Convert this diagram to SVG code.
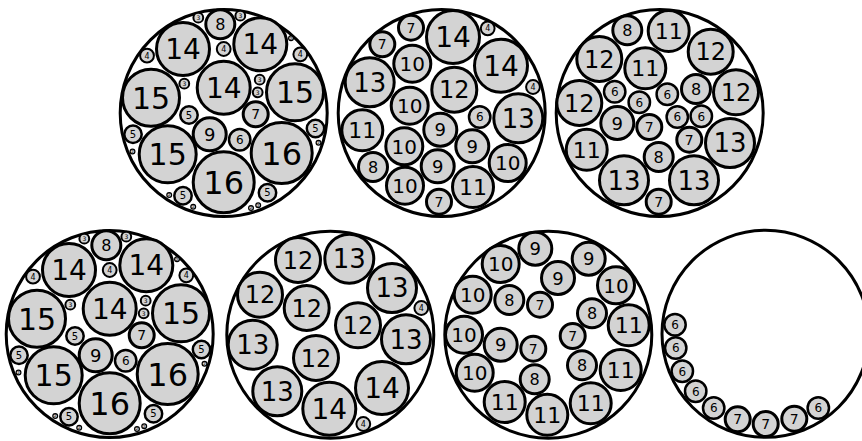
<svg xmlns="http://www.w3.org/2000/svg" width="862" height="441" viewBox="0 0 862 441">
<style>
.o{fill:#fff;stroke:#000;stroke-width:3}
.n circle{fill:#d3d3d3;stroke:#000}
.n text{font-family:"DejaVu Sans","Liberation Sans",sans-serif;text-anchor:middle;fill:#000}
.w3{stroke-width:3}
.w25{stroke-width:2.5}
.w2{stroke-width:2}
.w1{stroke-width:1.2}
</style>
<rect width="862" height="441" fill="#fff"/>
<g id="pack1">
<circle class="o" cx="223.7" cy="113" r="103.5"/>
<g id="a1" class="n"><circle class="w3" cx="183" cy="49" r="26.5"/><text x="183" y="59.1" font-size="28">14</text></g>
<g id="a2" class="n"><circle class="w3" cx="220.3" cy="24.3" r="14.5"/><text x="220.3" y="30.1" font-size="16">8</text></g>
<g id="a3" class="n"><circle class="w3" cx="260.3" cy="44.3" r="26.5"/><text x="260.3" y="54.4" font-size="28">14</text></g>
<g id="a4" class="n"><circle class="w3" cx="223.7" cy="87.7" r="26.5"/><text x="223.7" y="97.8" font-size="28">14</text></g>
<g id="a5" class="n"><circle class="w3" cx="151" cy="97.7" r="28.5"/><text x="151" y="108.5" font-size="30">15</text></g>
<g id="a6" class="n"><circle class="w3" cx="295" cy="92.3" r="28.5"/><text x="295" y="103.1" font-size="30">15</text></g>
<g id="a7" class="n"><circle class="w3" cx="167.7" cy="154.3" r="28.5"/><text x="167.7" y="165.1" font-size="30">15</text></g>
<g id="a8" class="n"><circle class="w3" cx="281.7" cy="153" r="30.5"/><text x="281.7" y="164.5" font-size="32">16</text></g>
<g id="a9" class="n"><circle class="w3" cx="223.7" cy="182.3" r="30.5"/><text x="223.7" y="193.8" font-size="32">16</text></g>
<g id="a10" class="n"><circle class="w3" cx="209.7" cy="134.3" r="16.5"/><text x="209.7" y="140.8" font-size="18">9</text></g>
<g id="a11" class="n"><circle class="w25" cx="239.7" cy="139.7" r="10.7"/><text x="239.7" y="144" font-size="12">6</text></g>
<g id="a12" class="n"><circle class="w3" cx="255.7" cy="114.3" r="12.5"/><text x="255.7" y="119.3" font-size="14">7</text></g>
<g id="a13" class="n"><circle class="w25" cx="189" cy="115" r="8.7"/><text x="189" y="118.6" font-size="10">5</text></g>
<g id="a14" class="n"><circle class="w2" cx="184.3" cy="83.7" r="4.9"/><text x="184.3" y="85.9" font-size="6">3</text></g>
<g id="a15" class="n"><circle class="w2" cx="223.7" cy="49" r="6.9"/><text x="223.7" y="51.9" font-size="8">4</text></g>
<g id="a16" class="n"><circle class="w2" cx="259.7" cy="79.7" r="4.9"/><text x="259.7" y="81.9" font-size="6">3</text></g>
<g id="a17" class="n"><circle class="w2" cx="257.7" cy="92.3" r="4.9"/><text x="257.7" y="94.5" font-size="6">3</text></g>
<g id="a18" class="n"><circle class="w2" cx="147" cy="55.7" r="6.9"/><text x="147" y="58.6" font-size="8">4</text></g>
<g id="a19" class="n"><circle class="w2" cx="300.3" cy="54.3" r="6.9"/><text x="300.3" y="57.2" font-size="8">4</text></g>
<g id="a20" class="n"><circle class="w2" cx="198.3" cy="17.7" r="4.9"/><text x="198.3" y="19.9" font-size="6">3</text></g>
<g id="a21" class="n"><circle class="w2" cx="240.3" cy="15.7" r="4.9"/><text x="240.3" y="17.9" font-size="6">3</text></g>
<g id="a22" class="n"><circle class="w1" cx="291" cy="38.3" r="2.4"/><text x="291" y="39.7" font-size="4">2</text></g>
<g id="a23" class="n"><circle class="w25" cx="133" cy="134.3" r="8.7"/><text x="133" y="137.9" font-size="10">5</text></g>
<g id="a24" class="n"><circle class="w1" cx="132.5" cy="151.5" r="2.4"/><text x="132.5" y="152.9" font-size="4">2</text></g>
<g id="a25" class="n"><circle class="w25" cx="315.5" cy="128.5" r="8.7"/><text x="315.5" y="132.1" font-size="10">5</text></g>
<g id="a26" class="n"><circle class="w1" cx="318.5" cy="142.7" r="2.4"/><text x="318.5" y="144.1" font-size="4">2</text></g>
<g id="a27" class="n"><circle class="w25" cx="183" cy="195.7" r="8.7"/><text x="183" y="199.3" font-size="10">5</text></g>
<g id="a28" class="n"><circle class="w1" cx="169.2" cy="195" r="2.4"/><text x="169.2" y="196.4" font-size="4">2</text></g>
<g id="a29" class="n"><circle class="w1" cx="193.2" cy="206.7" r="2.4"/><text x="193.2" y="208.1" font-size="4">2</text></g>
<g id="a30" class="n"><circle class="w25" cx="267.5" cy="192.7" r="8.7"/><text x="267.5" y="196.3" font-size="10">5</text></g>
<g id="a31" class="n"><circle class="w1" cx="258.2" cy="205.3" r="2.4"/><text x="258.2" y="206.7" font-size="4">2</text></g>
<g id="a32" class="n"><circle class="w1" cx="251" cy="208" r="2.4"/><text x="251" y="209.4" font-size="4">2</text></g>
</g>
<g id="pack4" transform="translate(-114,221)">
<circle class="o" cx="223.7" cy="113" r="103.5"/>
<g id="d1" class="n"><circle class="w3" cx="183" cy="49" r="26.5"/><text x="183" y="59.1" font-size="28">14</text></g>
<g id="d2" class="n"><circle class="w3" cx="220.3" cy="24.3" r="14.5"/><text x="220.3" y="30.1" font-size="16">8</text></g>
<g id="d3" class="n"><circle class="w3" cx="260.3" cy="44.3" r="26.5"/><text x="260.3" y="54.4" font-size="28">14</text></g>
<g id="d4" class="n"><circle class="w3" cx="223.7" cy="87.7" r="26.5"/><text x="223.7" y="97.8" font-size="28">14</text></g>
<g id="d5" class="n"><circle class="w3" cx="151" cy="97.7" r="28.5"/><text x="151" y="108.5" font-size="30">15</text></g>
<g id="d6" class="n"><circle class="w3" cx="295" cy="92.3" r="28.5"/><text x="295" y="103.1" font-size="30">15</text></g>
<g id="d7" class="n"><circle class="w3" cx="167.7" cy="154.3" r="28.5"/><text x="167.7" y="165.1" font-size="30">15</text></g>
<g id="d8" class="n"><circle class="w3" cx="281.7" cy="153" r="30.5"/><text x="281.7" y="164.5" font-size="32">16</text></g>
<g id="d9" class="n"><circle class="w3" cx="223.7" cy="182.3" r="30.5"/><text x="223.7" y="193.8" font-size="32">16</text></g>
<g id="d10" class="n"><circle class="w3" cx="209.7" cy="134.3" r="16.5"/><text x="209.7" y="140.8" font-size="18">9</text></g>
<g id="d11" class="n"><circle class="w25" cx="239.7" cy="139.7" r="10.7"/><text x="239.7" y="144" font-size="12">6</text></g>
<g id="d12" class="n"><circle class="w3" cx="255.7" cy="114.3" r="12.5"/><text x="255.7" y="119.3" font-size="14">7</text></g>
<g id="d13" class="n"><circle class="w25" cx="189" cy="115" r="8.7"/><text x="189" y="118.6" font-size="10">5</text></g>
<g id="d14" class="n"><circle class="w2" cx="184.3" cy="83.7" r="4.9"/><text x="184.3" y="85.9" font-size="6">3</text></g>
<g id="d15" class="n"><circle class="w2" cx="223.7" cy="49" r="6.9"/><text x="223.7" y="51.9" font-size="8">4</text></g>
<g id="d16" class="n"><circle class="w2" cx="259.7" cy="79.7" r="4.9"/><text x="259.7" y="81.9" font-size="6">3</text></g>
<g id="d17" class="n"><circle class="w2" cx="257.7" cy="92.3" r="4.9"/><text x="257.7" y="94.5" font-size="6">3</text></g>
<g id="d18" class="n"><circle class="w2" cx="147" cy="55.7" r="6.9"/><text x="147" y="58.6" font-size="8">4</text></g>
<g id="d19" class="n"><circle class="w2" cx="300.3" cy="54.3" r="6.9"/><text x="300.3" y="57.2" font-size="8">4</text></g>
<g id="d20" class="n"><circle class="w2" cx="198.3" cy="17.7" r="4.9"/><text x="198.3" y="19.9" font-size="6">3</text></g>
<g id="d21" class="n"><circle class="w2" cx="240.3" cy="15.7" r="4.9"/><text x="240.3" y="17.9" font-size="6">3</text></g>
<g id="d22" class="n"><circle class="w1" cx="291" cy="38.3" r="2.4"/><text x="291" y="39.7" font-size="4">2</text></g>
<g id="d23" class="n"><circle class="w25" cx="133" cy="134.3" r="8.7"/><text x="133" y="137.9" font-size="10">5</text></g>
<g id="d24" class="n"><circle class="w1" cx="132.5" cy="151.5" r="2.4"/><text x="132.5" y="152.9" font-size="4">2</text></g>
<g id="d25" class="n"><circle class="w25" cx="315.5" cy="128.5" r="8.7"/><text x="315.5" y="132.1" font-size="10">5</text></g>
<g id="d26" class="n"><circle class="w1" cx="318.5" cy="142.7" r="2.4"/><text x="318.5" y="144.1" font-size="4">2</text></g>
<g id="d27" class="n"><circle class="w25" cx="183" cy="195.7" r="8.7"/><text x="183" y="199.3" font-size="10">5</text></g>
<g id="d28" class="n"><circle class="w1" cx="169.2" cy="195" r="2.4"/><text x="169.2" y="196.4" font-size="4">2</text></g>
<g id="d29" class="n"><circle class="w1" cx="193.2" cy="206.7" r="2.4"/><text x="193.2" y="208.1" font-size="4">2</text></g>
<g id="d30" class="n"><circle class="w25" cx="267.5" cy="192.7" r="8.7"/><text x="267.5" y="196.3" font-size="10">5</text></g>
<g id="d31" class="n"><circle class="w1" cx="258.2" cy="205.3" r="2.4"/><text x="258.2" y="206.7" font-size="4">2</text></g>
<g id="d32" class="n"><circle class="w1" cx="251" cy="208" r="2.4"/><text x="251" y="209.4" font-size="4">2</text></g>
</g>
<g id="pack2">
<circle class="o" cx="441.7" cy="113" r="103.5"/>
<g id="b1" class="n"><circle class="w3" cx="411" cy="27.7" r="12.5"/><text x="411" y="32.7" font-size="14">7</text></g>
<g id="b2" class="n"><circle class="w3" cx="453" cy="37" r="26.5"/><text x="453" y="47.1" font-size="28">14</text></g>
<g id="b3" class="n"><circle class="w2" cx="487.7" cy="28.3" r="6.9"/><text x="487.7" y="31.2" font-size="8">4</text></g>
<g id="b4" class="n"><circle class="w3" cx="382.3" cy="44.3" r="12.5"/><text x="382.3" y="49.3" font-size="14">7</text></g>
<g id="b5" class="n"><circle class="w3" cx="412.3" cy="63.7" r="18.5"/><text x="412.3" y="70.9" font-size="20">10</text></g>
<g id="b6" class="n"><circle class="w3" cx="501" cy="65.7" r="26.5"/><text x="501" y="75.8" font-size="28">14</text></g>
<g id="b7" class="n"><circle class="w3" cx="369.7" cy="82.3" r="24.5"/><text x="369.7" y="91.7" font-size="26">13</text></g>
<g id="b8" class="n"><circle class="w3" cx="454.3" cy="89.7" r="22.5"/><text x="454.3" y="98.3" font-size="24">12</text></g>
<g id="b9" class="n"><circle class="w2" cx="533" cy="87" r="6.9"/><text x="533" y="89.9" font-size="8">4</text></g>
<g id="b10" class="n"><circle class="w3" cx="409.7" cy="105.7" r="18.5"/><text x="409.7" y="112.9" font-size="20">10</text></g>
<g id="b11" class="n"><circle class="w3" cx="518.3" cy="118.3" r="24.5"/><text x="518.3" y="127.7" font-size="26">13</text></g>
<g id="b12" class="n"><circle class="w25" cx="479.7" cy="117" r="10.7"/><text x="479.7" y="121.3" font-size="12">6</text></g>
<g id="b13" class="n"><circle class="w3" cx="362.3" cy="130.3" r="20.5"/><text x="362.3" y="138.2" font-size="22">11</text></g>
<g id="b14" class="n"><circle class="w3" cx="440.3" cy="129.7" r="16.5"/><text x="440.3" y="136.2" font-size="18">9</text></g>
<g id="b15" class="n"><circle class="w3" cx="404.3" cy="146.3" r="18.5"/><text x="404.3" y="153.5" font-size="20">10</text></g>
<g id="b16" class="n"><circle class="w3" cx="472.3" cy="146.3" r="16.5"/><text x="472.3" y="152.8" font-size="18">9</text></g>
<g id="b17" class="n"><circle class="w3" cx="507.7" cy="163" r="18.5"/><text x="507.7" y="170.2" font-size="20">10</text></g>
<g id="b18" class="n"><circle class="w3" cx="373" cy="167" r="14.5"/><text x="373" y="172.8" font-size="16">8</text></g>
<g id="b19" class="n"><circle class="w3" cx="437.7" cy="166.3" r="16.5"/><text x="437.7" y="172.8" font-size="18">9</text></g>
<g id="b20" class="n"><circle class="w3" cx="405" cy="185.7" r="18.5"/><text x="405" y="192.9" font-size="20">10</text></g>
<g id="b21" class="n"><circle class="w3" cx="473" cy="187" r="20.5"/><text x="473" y="194.9" font-size="22">11</text></g>
<g id="b22" class="n"><circle class="w3" cx="439" cy="201.7" r="12.5"/><text x="439" y="206.7" font-size="14">7</text></g>
</g>
<g id="pack3">
<circle class="o" cx="659.7" cy="113" r="103.5"/>
<g id="c1" class="n"><circle class="w3" cx="627.3" cy="30.3" r="14.5"/><text x="627.3" y="36.1" font-size="16">8</text></g>
<g id="c2" class="n"><circle class="w3" cx="668.7" cy="31" r="20.5"/><text x="668.7" y="38.9" font-size="22">11</text></g>
<g id="c3" class="n"><circle class="w3" cx="710.7" cy="51.7" r="22.5"/><text x="710.7" y="60.3" font-size="24">12</text></g>
<g id="c4" class="n"><circle class="w3" cx="599.3" cy="59" r="22.5"/><text x="599.3" y="67.6" font-size="24">12</text></g>
<g id="c5" class="n"><circle class="w3" cx="645.3" cy="68.3" r="20.5"/><text x="645.3" y="76.2" font-size="22">11</text></g>
<g id="c6" class="n"><circle class="w3" cx="579.3" cy="103" r="22.5"/><text x="579.3" y="111.6" font-size="24">12</text></g>
<g id="c7" class="n"><circle class="w25" cx="614.7" cy="91.7" r="10.7"/><text x="614.7" y="96" font-size="12">6</text></g>
<g id="c8" class="n"><circle class="w25" cx="639.3" cy="102.3" r="10.7"/><text x="639.3" y="106.6" font-size="12">6</text></g>
<g id="c9" class="n"><circle class="w25" cx="667.3" cy="94.3" r="10.7"/><text x="667.3" y="98.6" font-size="12">6</text></g>
<g id="c10" class="n"><circle class="w3" cx="696" cy="89" r="14.5"/><text x="696" y="94.8" font-size="16">8</text></g>
<g id="c11" class="n"><circle class="w3" cx="736" cy="92.3" r="22.5"/><text x="736" y="100.9" font-size="24">12</text></g>
<g id="c12" class="n"><circle class="w3" cx="617.3" cy="123" r="16.5"/><text x="617.3" y="129.5" font-size="18">9</text></g>
<g id="c13" class="n"><circle class="w3" cx="649.3" cy="127" r="12.5"/><text x="649.3" y="132" font-size="14">7</text></g>
<g id="c14" class="n"><circle class="w25" cx="677.3" cy="117" r="10.7"/><text x="677.3" y="121.3" font-size="12">6</text></g>
<g id="c15" class="n"><circle class="w25" cx="701.3" cy="116.3" r="10.7"/><text x="701.3" y="120.6" font-size="12">6</text></g>
<g id="c16" class="n"><circle class="w3" cx="730" cy="143" r="24.5"/><text x="730" y="152.4" font-size="26">13</text></g>
<g id="c17" class="n"><circle class="w3" cx="689.3" cy="139.7" r="12.5"/><text x="689.3" y="144.7" font-size="14">7</text></g>
<g id="c18" class="n"><circle class="w3" cx="586.7" cy="149.7" r="20.5"/><text x="586.7" y="157.6" font-size="22">11</text></g>
<g id="c19" class="n"><circle class="w3" cx="658.7" cy="157" r="14.5"/><text x="658.7" y="162.8" font-size="16">8</text></g>
<g id="c20" class="n"><circle class="w3" cx="624" cy="180.3" r="24.5"/><text x="624" y="189.7" font-size="26">13</text></g>
<g id="c21" class="n"><circle class="w3" cx="694" cy="180.3" r="24.5"/><text x="694" y="189.7" font-size="26">13</text></g>
<g id="c22" class="n"><circle class="w3" cx="658.7" cy="201.7" r="12.5"/><text x="658.7" y="206.7" font-size="14">7</text></g>
</g>
<g id="pack5">
<circle class="o" cx="330.3" cy="334.7" r="103.5"/>
<g id="e1" class="n"><circle class="w3" cx="298" cy="260" r="22.5"/><text x="298" y="268.6" font-size="24">12</text></g>
<g id="e2" class="n"><circle class="w3" cx="349.3" cy="258.7" r="24.5"/><text x="349.3" y="268.1" font-size="26">13</text></g>
<g id="e3" class="n"><circle class="w3" cx="260" cy="294.7" r="22.5"/><text x="260" y="303.3" font-size="24">12</text></g>
<g id="e4" class="n"><circle class="w3" cx="392" cy="288" r="24.5"/><text x="392" y="297.4" font-size="26">13</text></g>
<g id="e5" class="n"><circle class="w2" cx="421.3" cy="308" r="6.9"/><text x="421.3" y="310.9" font-size="8">4</text></g>
<g id="e6" class="n"><circle class="w3" cx="306.7" cy="308" r="22.5"/><text x="306.7" y="316.6" font-size="24">12</text></g>
<g id="e7" class="n"><circle class="w3" cx="358" cy="325.3" r="22.5"/><text x="358" y="333.9" font-size="24">12</text></g>
<g id="e8" class="n"><circle class="w3" cx="252.7" cy="344.7" r="24.5"/><text x="252.7" y="354.1" font-size="26">13</text></g>
<g id="e9" class="n"><circle class="w3" cx="406" cy="339.3" r="24.5"/><text x="406" y="348.7" font-size="26">13</text></g>
<g id="e10" class="n"><circle class="w3" cx="316" cy="358" r="22.5"/><text x="316" y="366.6" font-size="24">12</text></g>
<g id="e11" class="n"><circle class="w3" cx="382" cy="388" r="26.5"/><text x="382" y="398.1" font-size="28">14</text></g>
<g id="e12" class="n"><circle class="w3" cx="277.3" cy="391.3" r="24.5"/><text x="277.3" y="400.7" font-size="26">13</text></g>
<g id="e13" class="n"><circle class="w3" cx="329.3" cy="408.7" r="26.5"/><text x="329.3" y="418.8" font-size="28">14</text></g>
<g id="e14" class="n"><circle class="w2" cx="363.3" cy="424" r="6.9"/><text x="363.3" y="426.9" font-size="8">4</text></g>
</g>
<g id="pack6">
<circle class="o" cx="548.3" cy="334.7" r="103.5"/>
<g id="f1" class="n"><circle class="w3" cx="535.3" cy="248.7" r="16.5"/><text x="535.3" y="255.2" font-size="18">9</text></g>
<g id="f2" class="n"><circle class="w3" cx="500.7" cy="264" r="18.5"/><text x="500.7" y="271.2" font-size="20">10</text></g>
<g id="f3" class="n"><circle class="w3" cx="588.7" cy="258.7" r="16.5"/><text x="588.7" y="265.2" font-size="18">9</text></g>
<g id="f4" class="n"><circle class="w3" cx="558" cy="278" r="16.5"/><text x="558" y="284.5" font-size="18">9</text></g>
<g id="f5" class="n"><circle class="w3" cx="616" cy="285.3" r="18.5"/><text x="616" y="292.5" font-size="20">10</text></g>
<g id="f6" class="n"><circle class="w3" cx="472.7" cy="294.7" r="18.5"/><text x="472.7" y="301.9" font-size="20">10</text></g>
<g id="f7" class="n"><circle class="w3" cx="509.3" cy="300" r="14.5"/><text x="509.3" y="305.8" font-size="16">8</text></g>
<g id="f8" class="n"><circle class="w3" cx="540" cy="304.7" r="12.5"/><text x="540" y="309.7" font-size="14">7</text></g>
<g id="f9" class="n"><circle class="w3" cx="592" cy="313.3" r="14.5"/><text x="592" y="319.1" font-size="16">8</text></g>
<g id="f10" class="n"><circle class="w3" cx="628.7" cy="325.3" r="20.5"/><text x="628.7" y="333.2" font-size="22">11</text></g>
<g id="f11" class="n"><circle class="w3" cx="464" cy="334.7" r="18.5"/><text x="464" y="341.9" font-size="20">10</text></g>
<g id="f12" class="n"><circle class="w3" cx="500.7" cy="344.7" r="16.5"/><text x="500.7" y="351.2" font-size="18">9</text></g>
<g id="f13" class="n"><circle class="w3" cx="533.3" cy="348.7" r="12.5"/><text x="533.3" y="353.7" font-size="14">7</text></g>
<g id="f14" class="n"><circle class="w3" cx="572.7" cy="336" r="12.5"/><text x="572.7" y="341" font-size="14">7</text></g>
<g id="f15" class="n"><circle class="w3" cx="582" cy="365.3" r="14.5"/><text x="582" y="371.1" font-size="16">8</text></g>
<g id="f16" class="n"><circle class="w3" cx="620.7" cy="370" r="20.5"/><text x="620.7" y="377.9" font-size="22">11</text></g>
<g id="f17" class="n"><circle class="w3" cx="474.7" cy="372.7" r="18.5"/><text x="474.7" y="379.9" font-size="20">10</text></g>
<g id="f18" class="n"><circle class="w3" cx="534.7" cy="379.3" r="14.5"/><text x="534.7" y="385.1" font-size="16">8</text></g>
<g id="f19" class="n"><circle class="w3" cx="504.7" cy="402" r="20.5"/><text x="504.7" y="409.9" font-size="22">11</text></g>
<g id="f20" class="n"><circle class="w3" cx="590.7" cy="403.3" r="20.5"/><text x="590.7" y="411.2" font-size="22">11</text></g>
<g id="f21" class="n"><circle class="w3" cx="547.3" cy="414.7" r="20.5"/><text x="547.3" y="422.6" font-size="22">11</text></g>
</g>
<g id="pack7">
<circle class="o" cx="765.5" cy="333.8" r="103.5"/>
<g id="g1" class="n"><circle class="w25" cx="675" cy="324.7" r="10.7"/><text x="675" y="329" font-size="12">6</text></g>
<g id="g2" class="n"><circle class="w25" cx="675.7" cy="348" r="10.7"/><text x="675.7" y="352.3" font-size="12">6</text></g>
<g id="g3" class="n"><circle class="w25" cx="682.3" cy="371.3" r="10.7"/><text x="682.3" y="375.6" font-size="12">6</text></g>
<g id="g4" class="n"><circle class="w25" cx="695.7" cy="391.3" r="10.7"/><text x="695.7" y="395.6" font-size="12">6</text></g>
<g id="g5" class="n"><circle class="w25" cx="713.7" cy="408" r="10.7"/><text x="713.7" y="412.3" font-size="12">6</text></g>
<g id="g6" class="n"><circle class="w3" cx="737.7" cy="419.3" r="12.5"/><text x="737.7" y="424.3" font-size="14">7</text></g>
<g id="g7" class="n"><circle class="w3" cx="765.7" cy="424" r="12.5"/><text x="765.7" y="429" font-size="14">7</text></g>
<g id="g8" class="n"><circle class="w3" cx="794.3" cy="418.7" r="12.5"/><text x="794.3" y="423.7" font-size="14">7</text></g>
<g id="g9" class="n"><circle class="w25" cx="818.3" cy="408" r="10.7"/><text x="818.3" y="412.3" font-size="12">6</text></g>
</g>
</svg>
